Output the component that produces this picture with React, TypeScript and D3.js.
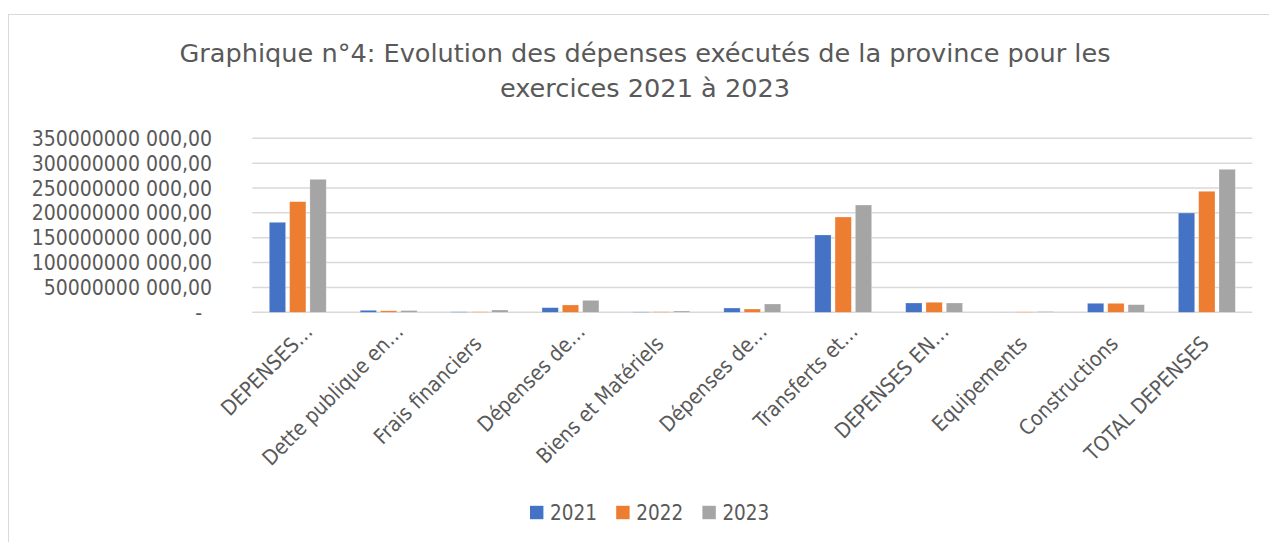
import React from "react";
import * as d3 from "d3";

const categories = [
  "DEPENSES…",
  "Dette publique en…",
  "Frais financiers",
  "Dépenses de…",
  "Biens et Matériels",
  "Dépenses de…",
  "Transferts et…",
  "DEPENSES EN…",
  "Equipements",
  "Constructions",
  "TOTAL DEPENSES",
];
const years = ["2021", "2022", "2023"];
const values2021 = [181e9, 4e9, 1e9, 9.3e9, 0.8e9, 8.6e9, 155.5e9, 18.7e9, 0.3e9, 18.1e9, 199.7e9];
const values2022 = [222.5e9, 3e9, 1e9, 14.7e9, 1e9, 6.6e9, 191.7e9, 20.1e9, 0.8e9, 18e9, 243.4e9];
const values2023 = [267.5e9, 3.5e9, 4.6e9, 24e9, 2.6e9, 16.7e9, 215.8e9, 18.7e9, 1.5e9, 15.3e9, 287.6e9];
const yTicks = [0, 50e9, 100e9, 150e9, 200e9, 250e9, 300e9, 350e9];
const colors = ["#4472C4", "#ED7D31", "#A5A5A5"];
const titleLines = [
  "Graphique n°4: Evolution des dépenses exécutés de la province pour les",
  "exercices 2021 à 2023",
];

const series = [values2021, values2022, values2023];

function fmt(v: number): string {
  if (v === 0) return "-";
  const s = Math.round(v).toString();
  return s.slice(0, s.length - 3) + " " + s.slice(s.length - 3) + ",00";
}

export default function App() {
  const W = 1269, H = 542;
  const left = 252.3, right = 1252.3, top = 138.3, bottom = 312.3;
  const font = "'DejaVu Sans Condensed', 'DejaVu Sans', sans-serif";
  const titleFont = "'DejaVu Sans', sans-serif";
  const textColor = "#595959";

  const x = d3.scaleBand<string>().domain(categories.map((_, i) => String(i))).range([left, right]).padding(0);
  const y = d3.scaleLinear().domain([0, 350e9]).range([bottom, top]);
  const barW = 16.3, barStep = 20.3;

  return (
    <svg width={W} height={H} style={{ position: "absolute", left: 0, top: 0, background: "#fff" }}>
      <rect x={8.5} y={14.5} width={1400} height={700} fill="#fff" stroke="#d9d9d9" strokeWidth={1} />
      <g fill={textColor}>
        {titleLines.map((t, i) => (
          <text key={i} x={645} y={62 + i * 35} textAnchor="middle" fontSize={25.6} fontFamily={titleFont}>
            {t}
          </text>
        ))}
      </g>
      <g fontFamily={font} fontStretch="condensed" fill={textColor}>
        {yTicks.map((t) => (
          <g key={t}>
            <line x1={left} x2={right} y1={y(t)} y2={y(t)} stroke="#d9d9d9" strokeWidth={1.5} />
            <text x={t === 0 ? 202 : 212} y={y(t)} dy="0.36em" textAnchor="end" fontSize={21}>
              {fmt(t)}
            </text>
          </g>
        ))}
        {categories.map((c, i) => {
          const cx = x(String(i))! + x.bandwidth() / 2;
          const truncated = c.endsWith("…");
          const ax = truncated ? cx + 16 : cx + 3.5;
          const ay = truncated ? 333 : 345;
          return (
            <g key={i}>
              {series.map((s, k) => {
                const bx = cx + (k - 1) * barStep - barW / 2;
                const by = y(s[i]);
                return (
                  <rect key={k} x={bx} y={by} width={barW} height={bottom - by} fill={colors[k]} stroke="#fff" strokeOpacity={0.4} strokeWidth={0.6} />
                );
              })}
              <text transform={`translate(${ax},${ay}) rotate(-45)`} textAnchor="end" fontSize={21}>
                {c}
              </text>
            </g>
          );
        })}
        {years.map((yr, k) => {
          const lx = 530 + k * 86.2;
          return (
            <g key={yr}>
              <rect x={lx} y={505.8} width={13.4} height={13.4} fill={colors[k]} />
              <text x={lx + 20} y={512.5} dy="0.36em" fontSize={20.5}>
                {yr}
              </text>
            </g>
          );
        })}
      </g>
    </svg>
  );
}
